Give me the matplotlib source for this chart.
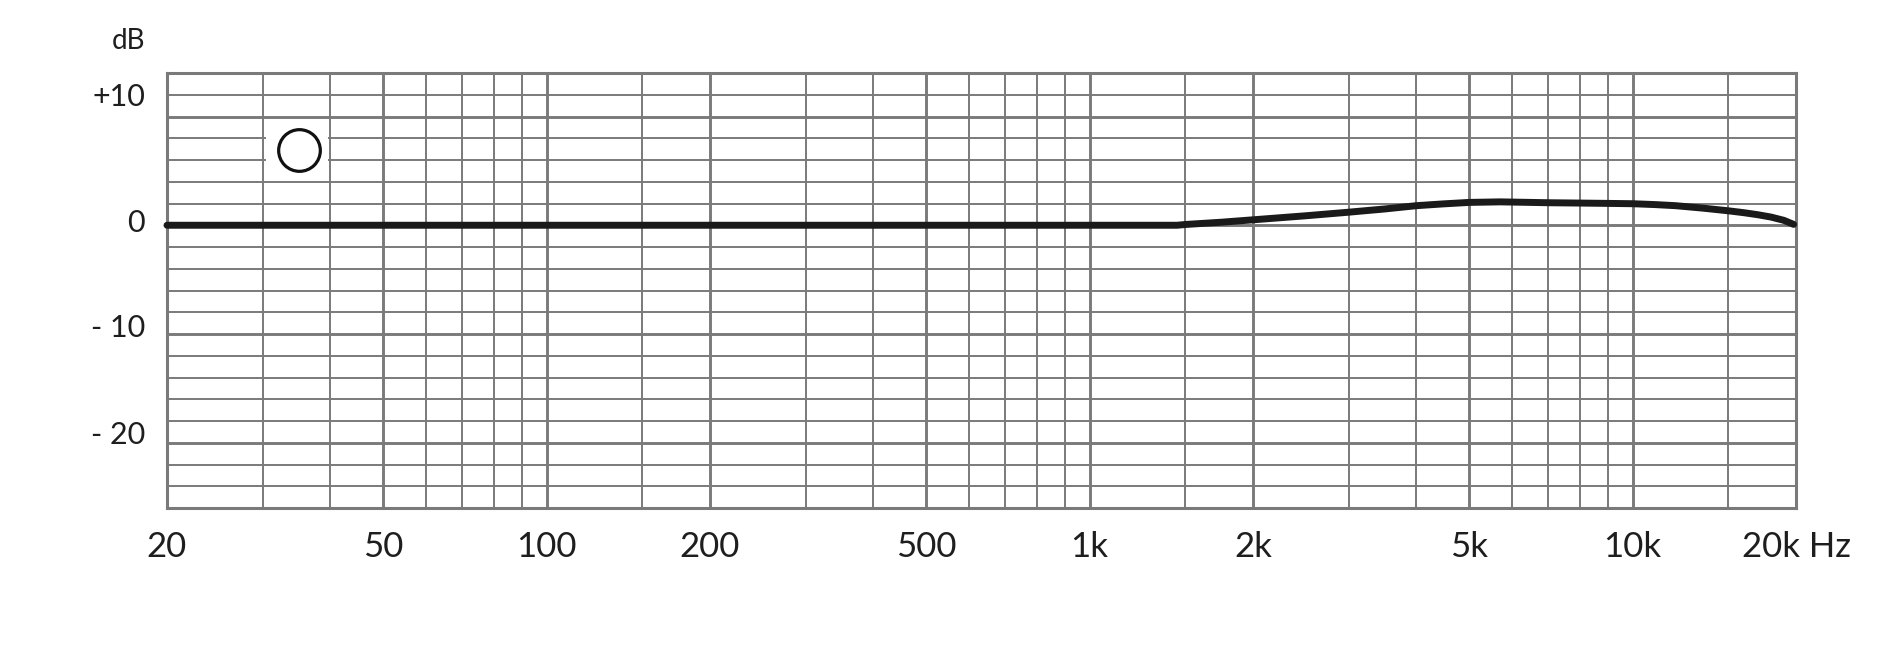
import matplotlib
matplotlib.use("Agg")
import matplotlib.pyplot as plt
from matplotlib.patches import Rectangle
from matplotlib.transforms import blended_transform_factory

# ---- data ----
freq_hz = [20, 50, 100, 200, 500, 1000, 1450, 1500, 1750, 2000, 2500, 3000, 3500,
           4000, 4500, 5000, 5700, 6500, 7000, 8000, 9000, 10000, 11000, 12000,
           13500, 15000, 16000, 17000, 18000, 19000, 19800]
response_db = [0, 0, 0, 0, 0, 0, 0, 0.07, 0.28, 0.5, 0.87, 1.2, 1.5,
               1.8, 1.97, 2.1, 2.15, 2.1, 2.07, 2.04, 2.01, 1.98, 1.9, 1.8,
               1.57, 1.33, 1.16, 0.97, 0.75, 0.45, 0.08]

xtick_vals = [20, 50, 100, 200, 500, 1000, 2000, 5000, 10000, 20000]
xtick_labels = ["20", "50", "100", "200", "500", "1k", "2k", "5k", "10k", "20k Hz"]
ytick_labels = ["+10", "0", "- 10", "- 20"]
ytick_label_pos = [11.0, -0.65, -10.25, -20.1]

grid_freqs = [30, 40, 50, 60, 70, 80, 90, 100, 150, 200, 300, 400, 500, 600, 700,
              800, 900, 1000, 1500, 2000, 3000, 4000, 5000, 6000, 7000, 8000,
              9000, 10000, 15000]
major_freqs = [50, 100, 200, 500, 1000, 2000, 5000, 10000]
grid_db = [-24, -22, -20, -18, -16, -14, -12, -10, -8, -6, -4, -2, 0, 2, 4, 6,
           8, 10, 12]
major_db = [-20, -10, 0, 10]

pattern_symbol_pos = (35, 6.9)

# ---- style ----
plt.rcParams['font.family'] = ['Lato', 'DejaVu Sans']
GRID = '#7a7a7a'
TXT = '#1e1e1e'

fig = plt.figure(figsize=(19, 6.65), dpi=100)
ax = fig.add_axes([167/1900, 1-508/665, 1629/1900, 435/665])
ax.set_xscale('log')
ax.set_xlim(20, 20000)
ax.set_ylim(-26, 14)

for f in grid_freqs:
    ax.axvline(f, color=GRID, lw=2.1 if f in major_freqs else 1.4, zorder=1)
for d in grid_db:
    ax.axhline(d, color=GRID, lw=2.1 if d in major_db else 1.4, zorder=1)

for s in ax.spines.values():
    s.set_color(GRID)
    s.set_linewidth(2.2)
ax.set_xticks([])
ax.set_yticks([])
ax.minorticks_off()
ax.tick_params(which='both', length=0, labelbottom=False, labelleft=False)

# white field behind the polar pattern symbol
ax.add_patch(Rectangle((30.4, 4.25), 39.6 - 30.4, 9.75 - 4.25,
                       facecolor='white', edgecolor='none', zorder=2))
ax.plot([pattern_symbol_pos[0]], [pattern_symbol_pos[1]], marker='o', ms=30,
        mfc='white', mec='#111111', mew=2.3, zorder=3, clip_on=False)

# response curve
ax.plot(freq_hz, response_db, color='#1a1a1a', lw=5.0,
        solid_capstyle='round', solid_joinstyle='round', zorder=4, clip_on=False)

# x labels
tx = blended_transform_factory(ax.transData, ax.transAxes)
for v, lab in zip(xtick_vals, xtick_labels):
    ax.text(v, -0.113, lab, transform=tx, ha='center', va='baseline',
            fontsize=25, color=TXT, fontweight='normal')

# y labels
ty = blended_transform_factory(ax.transAxes, ax.transData)
for v, lab in zip(ytick_label_pos, ytick_labels):
    ax.text(-0.0135, v, lab, transform=ty, ha='right', va='baseline',
            fontsize=22, color=TXT, fontweight='normal')

ax.text(-0.0135, 1.0552, "dB", transform=ax.transAxes, ha='right',
        va='baseline', fontsize=20, color=TXT, fontweight='normal')

fig.savefig('out.png', dpi=100, facecolor='white')
